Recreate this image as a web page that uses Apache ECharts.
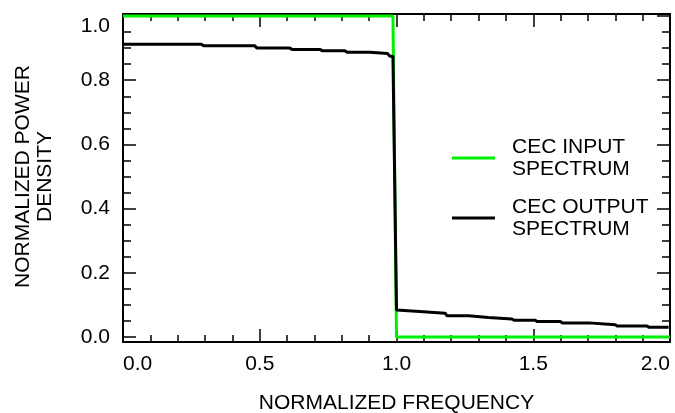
<!DOCTYPE html>
<html>
<head>
<meta charset="utf-8">
<script src="https://cdn.jsdelivr.net/npm/echarts@6/dist/echarts.min.js"></script>
<style>
html, body { margin: 0; padding: 0; background: #ffffff; }
#container { width: 675px; height: 413px; }
</style>
</head>
<body>
<div id="container"></div>
<script type="text/javascript">
// input spectrum (flat top, drops at 1.0)
var inFreq  = [0, 0.987, 1.0, 2.0];
var inPower = [1.0, 1.0, 0.0, 0.0];

// output spectrum (staircase)
var outFreq  = [0, 0.286, 0.295, 0.482, 0.490, 0.610, 0.618, 0.720, 0.728, 0.811, 0.820, 0.903, 0.910, 0.967, 0.975, 0.987,
                1.0, 1.005, 1.098, 1.105, 1.178, 1.185, 1.263, 1.270, 1.336, 1.343, 1.422, 1.430, 1.507, 1.515,
                1.599, 1.607, 1.703, 1.710, 1.800, 1.808, 1.916, 1.924, 1.995];
var outPower = [0.912, 0.912, 0.907, 0.907, 0.900, 0.900, 0.896, 0.896, 0.892, 0.892, 0.887, 0.887, 0.883, 0.883, 0.875, 0.875,
                0.084, 0.079, 0.079, 0.074, 0.074, 0.066, 0.066, 0.061, 0.061, 0.056, 0.056, 0.052, 0.052, 0.048,
                0.048, 0.044, 0.044, 0.038, 0.038, 0.034, 0.034, 0.030, 0.030];

var seriesNames = ['CEC INPUT\nSPECTRUM', 'CEC OUTPUT\nSPECTRUM'];

function pairs(xs, ys) {
    var out = [];
    for (var i = 0; i < xs.length; i++) out.push([xs[i], ys[i]]);
    return out;
}

var font = 'Liberation Sans';
var fs = 21;
var fmt1 = function (v) { return v.toFixed(1); };
var frameLine = { show: true, onZero: false, lineStyle: { color: '#000', width: 2 } };
var tickStyle = { color: '#000', width: 1.5 };

var dom = document.getElementById('container');
var myChart = echarts.init(dom);
var option = {
    animation: false,
    textStyle: { fontFamily: font },
    grid: [
        { left: 123, right: 5, top: 14, bottom: 71, outerBoundsMode: 'none', containLabel: false },   // frame
        { left: 123, right: 5, top: 16, bottom: 76, outerBoundsMode: 'none', containLabel: false }    // data area 0..1
    ],
    legend: {
        data: seriesNames,
        orient: 'vertical',
        left: 452,
        top: 125,
        padding: 0,
        itemGap: -6,
        itemWidth: 43,
        itemHeight: 3,
        icon: 'rect',
        selectedMode: false,
        textStyle: { fontFamily: font, fontSize: fs, color: '#000', lineHeight: 22, padding: [22, 0, 0, 12] }
    },
    xAxis: [
        {
            type: 'value', gridIndex: 0, position: 'bottom',
            min: 0, max: 2, interval: 0.5,
            name: 'NORMALIZED FREQUENCY', nameLocation: 'middle', nameGap: 51,
            nameTextStyle: { fontFamily: font, fontSize: fs, color: '#000' },
            axisLine: frameLine,
            axisTick: { inside: true, length: 13, lineStyle: tickStyle },
            minorTick: { show: true, splitNumber: 5, length: 7, lineStyle: tickStyle },
            splitLine: { show: false },
            axisLabel: { fontFamily: font, fontSize: fs, color: '#000', margin: 12, formatter: fmt1,
                         alignMinLabel: 'left', alignMaxLabel: 'right' }
        },
        {
            type: 'value', gridIndex: 0, position: 'top',
            min: 0, max: 2, interval: 0.5,
            axisLine: frameLine,
            axisTick: { inside: true, length: 13, lineStyle: tickStyle },
            minorTick: { show: true, splitNumber: 5, length: 7, lineStyle: tickStyle },
            splitLine: { show: false },
            axisLabel: { show: false }
        },
        {
            type: 'value', gridIndex: 1, min: 0, max: 2, show: false
        }
    ],
    yAxis: [
        {
            type: 'value', gridIndex: 0, position: 'left',
            min: -0.0156, max: 1.0062,
            axisLine: frameLine,
            axisTick: { show: false }, axisLabel: { show: false }, splitLine: { show: false }
        },
        {
            type: 'value', gridIndex: 0, position: 'right',
            min: -0.0156, max: 1.0062,
            axisLine: frameLine,
            axisTick: { show: false }, axisLabel: { show: false }, splitLine: { show: false }
        },
        {
            type: 'value', gridIndex: 1, position: 'left',
            min: 0, max: 1, interval: 0.2,
            name: 'NORMALIZED POWER\nDENSITY', nameLocation: 'middle', nameGap: 67, nameRotate: 90,
            nameTextStyle: { fontFamily: font, fontSize: fs, color: '#000', lineHeight: 22, align: 'center' },
            axisLine: { show: false, onZero: false },
            axisTick: { show: true, inside: true, length: 13, lineStyle: tickStyle },
            minorTick: { show: true, splitNumber: 4, length: 8, lineStyle: tickStyle },
            splitLine: { show: false },
            axisLabel: { fontFamily: font, fontSize: fs, color: '#000', margin: 13, formatter: fmt1,
                         verticalAlignMaxLabel: 'top' }
        },
        {
            type: 'value', gridIndex: 1, position: 'right',
            min: 0, max: 1, interval: 0.2,
            axisLine: { show: false, onZero: false },
            axisTick: { show: true, inside: true, length: 13, lineStyle: tickStyle },
            minorTick: { show: true, splitNumber: 4, length: 8, lineStyle: tickStyle },
            splitLine: { show: false },
            axisLabel: { show: false }
        }
    ],
    series: [
        {
            name: seriesNames[0], type: 'line', xAxisIndex: 2, yAxisIndex: 2,
            symbol: 'none', clip: false,
            itemStyle: { color: '#00f000' },
            lineStyle: { color: '#00f000', width: 3 },
            data: pairs(inFreq, inPower)
        },
        {
            name: seriesNames[1], type: 'line', xAxisIndex: 2, yAxisIndex: 2,
            symbol: 'none', clip: false,
            itemStyle: { color: '#000' },
            lineStyle: { color: '#000', width: 3 },
            data: pairs(outFreq, outPower)
        }
    ]
};
myChart.setOption(option);
</script>
</body>
</html>
